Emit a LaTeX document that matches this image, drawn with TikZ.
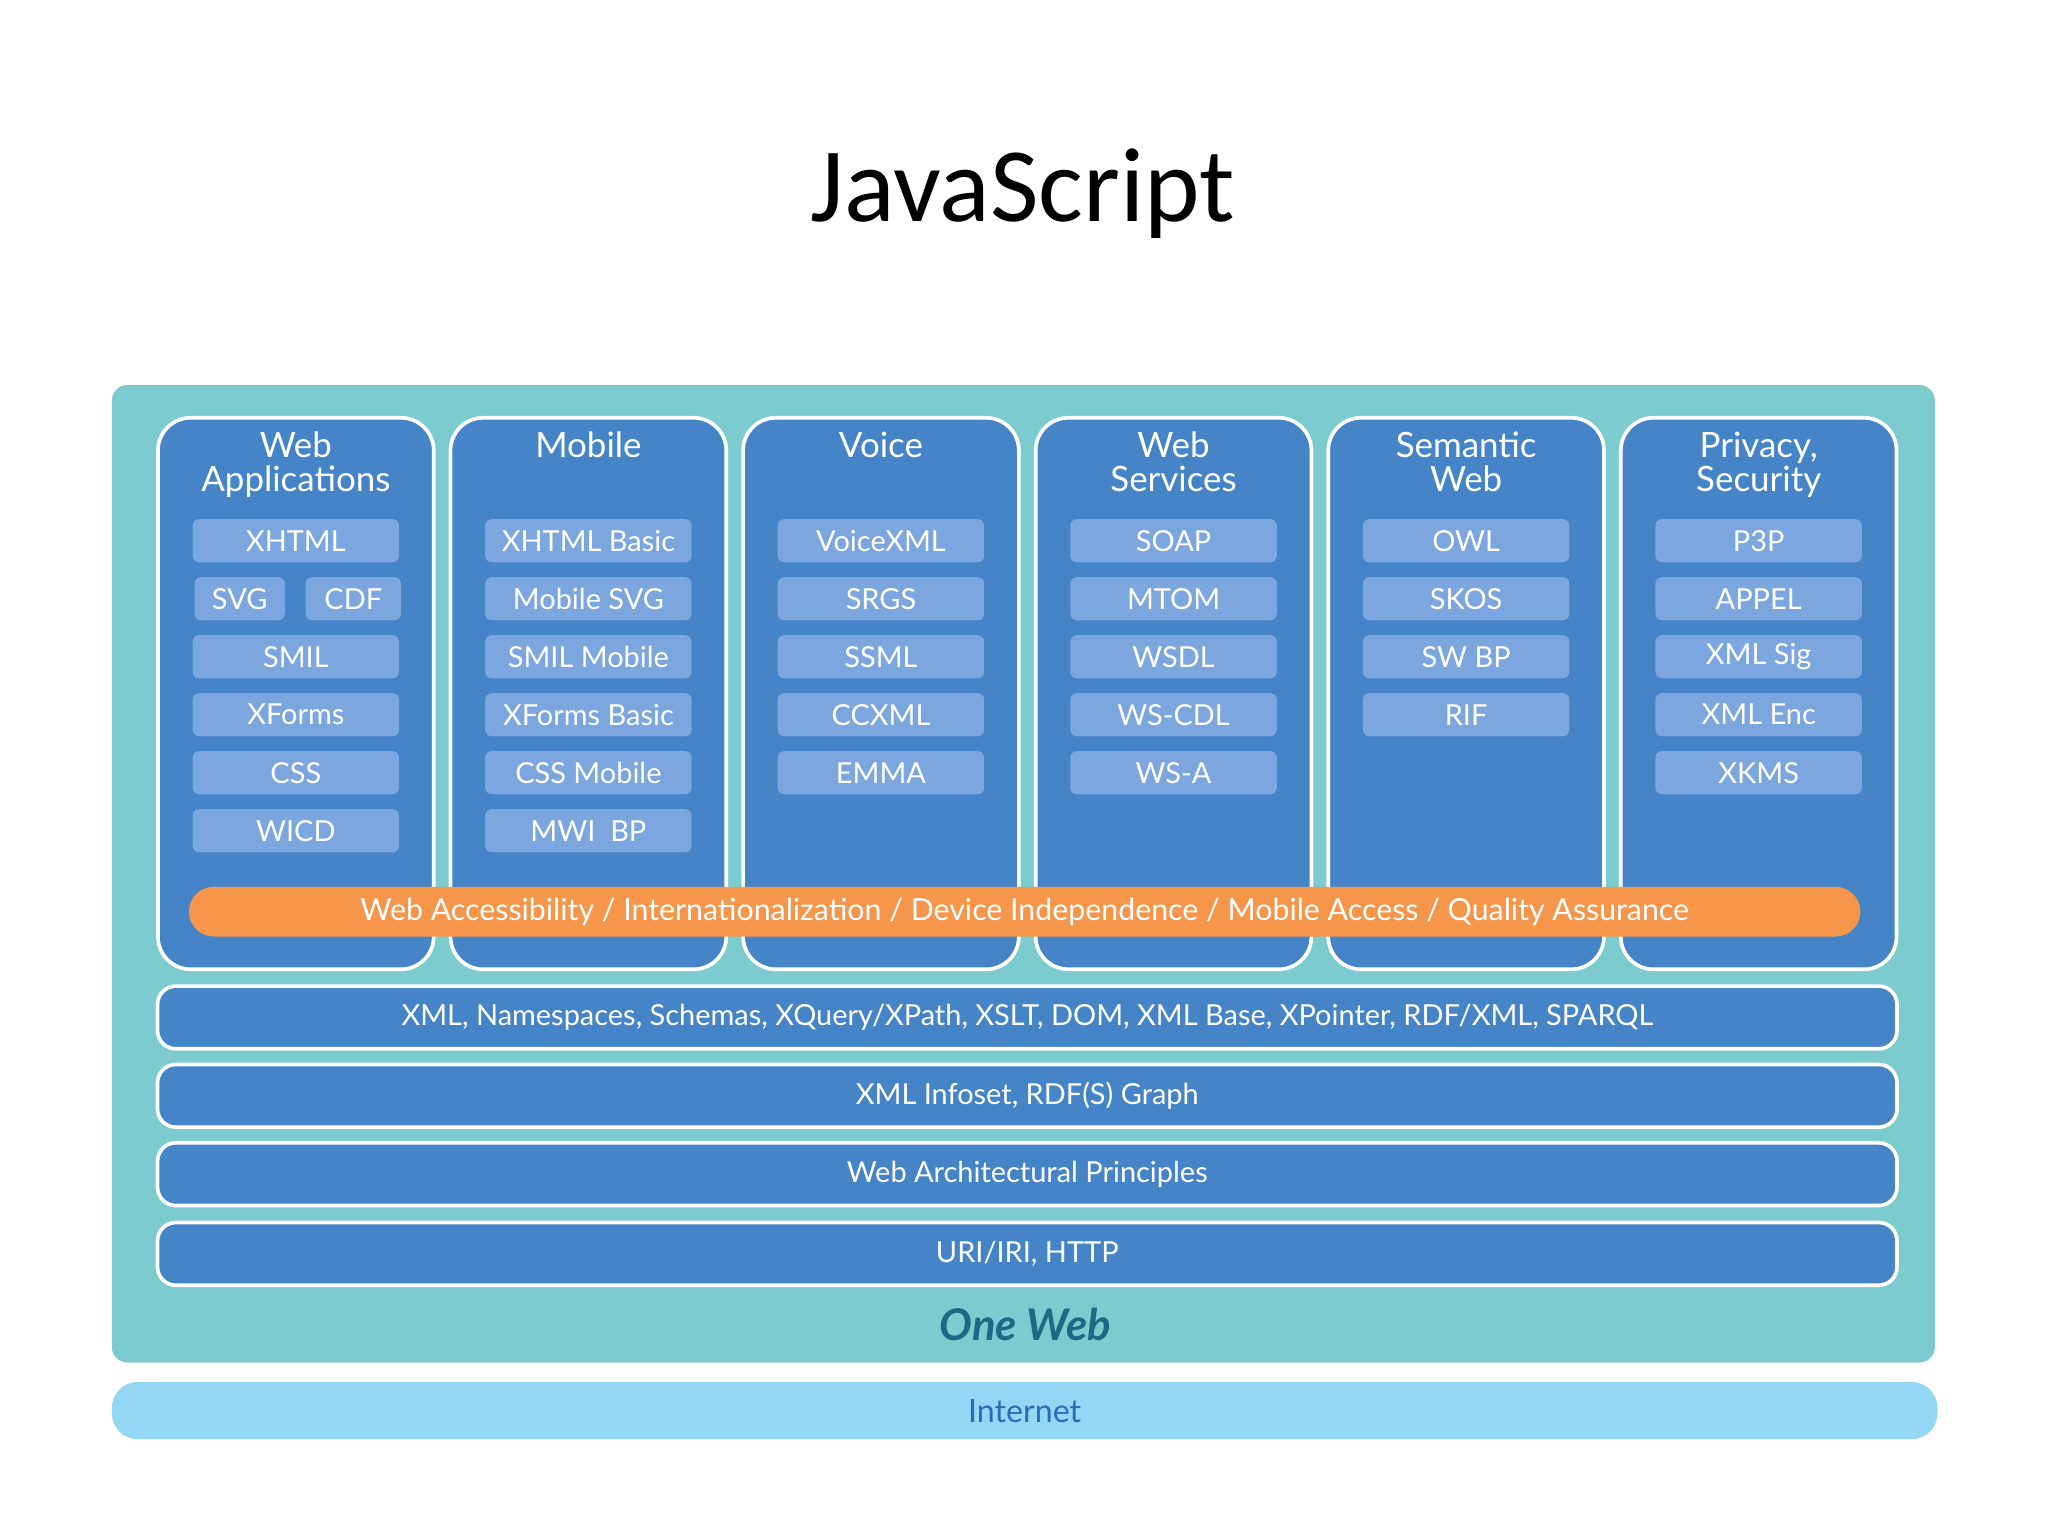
\documentclass[tikz,border=0pt]{standalone}
\usepackage{fontspec}
\setmainfont{Lato}
\newfontfamily\titlefont{Carlito}
\definecolor{tealbg}{HTML}{7BCBCF}
\definecolor{colblue}{HTML}{4584C7}
\definecolor{itemblue}{HTML}{7CA6DE}
\definecolor{orangebar}{HTML}{F5964A}
\definecolor{netblue}{HTML}{93D7F5}
\definecolor{webteal}{HTML}{1E6A86}
\definecolor{nettext}{HTML}{2A6DB5}

\begin{document}
\begin{tikzpicture}
	[x=0.01cm, y=-0.01cm,
	every node/.style={inner sep=0pt,font=\fontsize{6.3}{7}\selectfont,text=white},
	column/.style={draw=white,line width=0.8pt,fill=colblue,rounded corners=0.25cm,
		minimum width=2.11cm,minimum height=4.22cm},
	coltitle/.style={align=center,font=\fontsize{7.6}{7.4}\selectfont},
	item/.style={fill=itemblue,rounded corners=0.05cm,minimum height=0.33cm,minimum width=1.58cm},
	layer/.style={draw=white,line width=0.8pt,fill=colblue,rounded corners=0.14cm,
		minimum width=13.31cm,minimum height=0.48cm}]
	\useasboundingbox (0,0) rectangle (1568,1176);
	\node (title) [text=black,font=\titlefont\fontsize{23}{26}\selectfont] at (783,148) {JavaScript};
	\node (oneweb) [fill=tealbg,rounded corners=0.12cm,minimum width=13.95cm,minimum height=7.48cm] at (783.5,669) {};
	\node (internet) [fill=netblue,rounded corners=0.2cm,minimum width=13.97cm,minimum height=0.44cm,
		text=nettext,font=\fontsize{7}{8}\selectfont] at (784.5,1080) {Internet};
	% columns
	\foreach \n/\t/\items [count=\i from 0] in
		{wa/{Web\\Applications}/{XHTML,,SMIL,XForms,CSS,WICD},
		 mob/Mobile/{XHTML Basic,Mobile SVG,SMIL Mobile,XForms Basic,CSS Mobile,MWI\ \ BP},
		 voice/Voice/{VoiceXML,SRGS,SSML,CCXML,EMMA},
		 ws/{Web\\Services}/{SOAP,MTOM,WSDL,WS-CDL,WS-A},
		 sw/{Semantic\\Web}/{OWL,SKOS,SW BP,RIF},
		 priv/{Privacy,\\Security}/{P3P,APPEL,XML Sig,XML Enc,XKMS}} {
		\node (\n) [column] at (226.5+224*\i,531) {};
		\node (\n-t) [coltitle,anchor=north] at (226.5+224*\i,330) {\t};
		\foreach \s [count=\j from 0] in \items {
			\ifx\s\empty\else
			\node (\n-\j) [item] at (226.5+224*\i,414+44.4*\j) {\s};
			\fi
		}
	}
	\node (wa-svg) [item,minimum width=0.69cm] at (183.5,458.4) {SVG};
	\node (wa-cdf) [item,minimum width=0.73cm] at (270.5,458.4) {CDF};
	\node (access) [fill=orangebar,rounded corners=0.19cm,minimum width=12.79cm,minimum height=0.38cm,
		font=\fontsize{6.6}{7}\selectfont] at (784.5,698)
		{Web Accessibility / Internationalization / Device Independence / Mobile Access / Quality Assurance};
	% layers
	\node (xml) [layer] at (786.5,779) {XML, Namespaces, Schemas, XQuery/XPath, XSLT, DOM, XML Base, XPointer, RDF/XML, SPARQL};
	\node (infoset) [layer] at (786.5,839) {XML Infoset, RDF(S) Graph};
	\node (arch) [layer] at (786.5,899) {Web Architectural Principles};
	\node (uri) [layer] at (786.5,960) {URI/IRI, HTTP};
	\node (label) [text=webteal,font=\fontsize{9.5}{10}\selectfont\bfseries\itshape] at (785,1014) {One Web};
\end{tikzpicture}
\end{document}
